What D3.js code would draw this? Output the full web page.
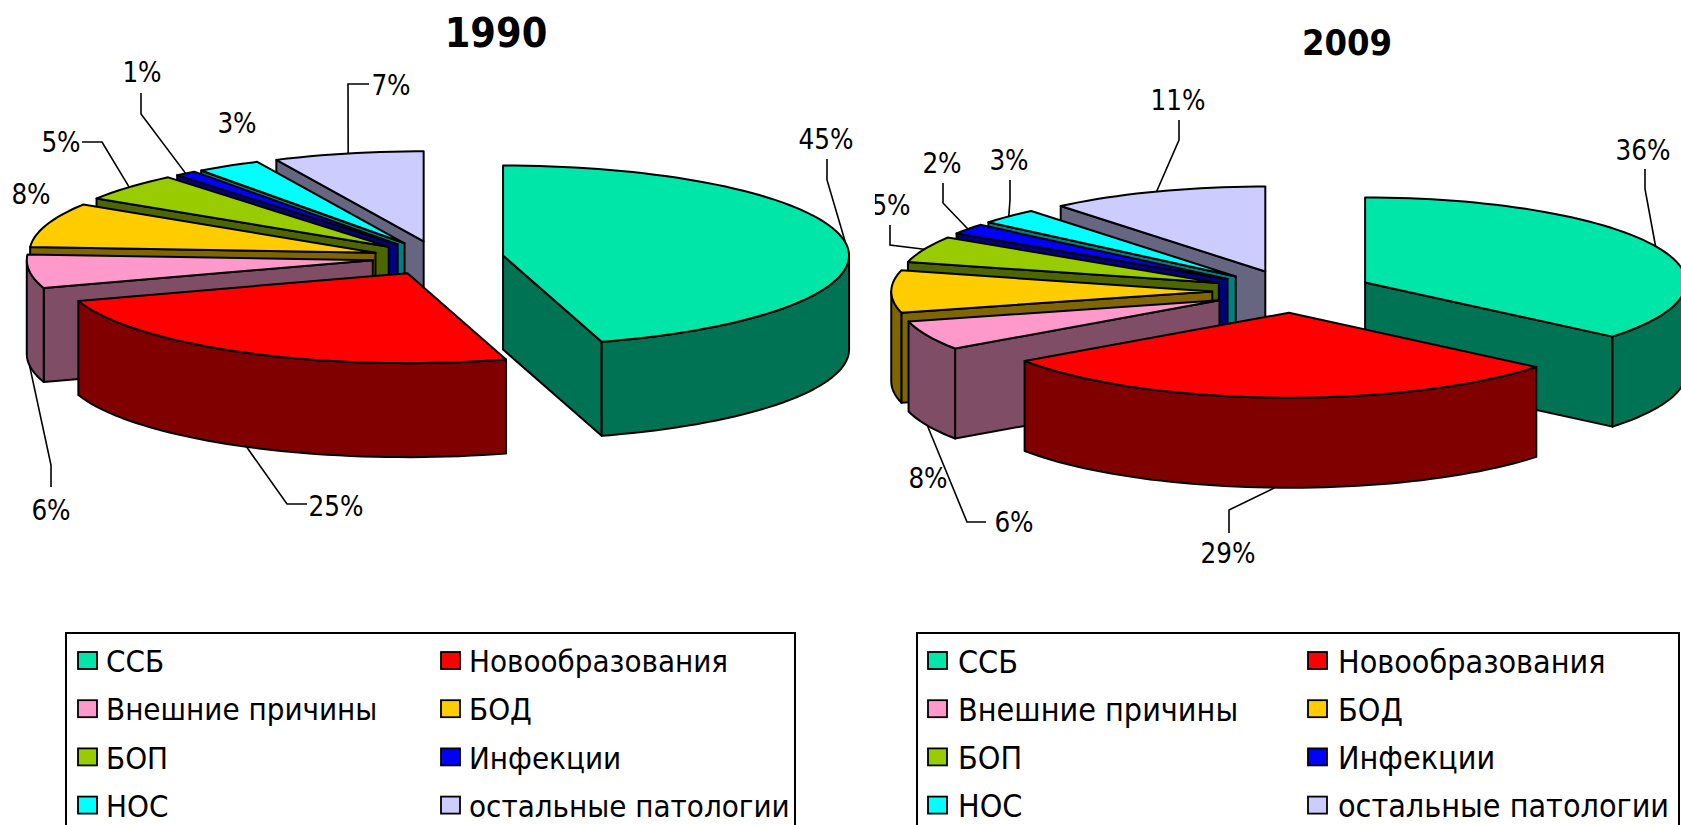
<!DOCTYPE html>
<html>
<head>
<meta charset="utf-8">
<script src="https://cdn.jsdelivr.net/npm/d3@7"></script>
<style>
  body { margin: 0; background: #fff; overflow: hidden; }
  text { font-family: "DejaVu Sans Condensed", "DejaVu Sans", sans-serif; fill: #000; }
</style>
</head>
<body>
<div id="chart-area"></div>
<script>
const categories = ["ССБ", "Новообразования", "Внешние причины", "БОД", "БОП", "Инфекции", "НОС", "остальные патологии"];
// labels show these rounded; decimals estimated from the slice edges
const values1990 = [45.4, 24.6, 6, 8, 5, 1, 3, 7];
const values2009 = [36, 29.4, 5.6, 8, 5, 2, 3, 11];
const topColors = ["#00E6A8", "#FF0000", "#FF99CC", "#FFCC00", "#99CC00", "#0000FF", "#00FFFF", "#CCCCFF"];

// label centre and the two leader points next to it, per slice (no leader = label only)
const labels1990 = [
    {at: [826, 139], leader: [[827, 159], [827, 180]]},
    {at: [336, 506], leader: [[307, 504], [287, 504]]},
    {at: [51, 510], leader: [[51, 487], [51, 465]]},
    {at: [31, 194]},
    {at: [61, 142], leader: [[82, 142], [102, 142]]},
    {at: [142, 72], leader: [[141, 93], [141, 114]]},
    {at: [237, 123]},
    {at: [391, 85], leader: [[369, 84], [348, 84]]}
];
const labels2009 = [
    {at: [1643, 150], leader: [[1645, 169], [1645, 189]]},
    {at: [1228, 553], leader: [[1229, 533], [1229, 510]]},
    {at: [1014, 522], leader: [[986, 522], [967, 522]]},
    {at: [928, 478]},
    {at: [891, 205], leader: [[890, 225], [890, 245]]},
    {at: [942, 163], leader: [[943, 183], [943, 203]]},
    {at: [1009, 160], leader: [[1010, 180], [1010, 200]]},
    {at: [1178, 100], leader: [[1179, 120], [1179, 140]]}
];

const width = 1681;
const height = 825;

const svg = d3.select("#chart-area")
    .append("svg")
    .attr("width", width)
    .attr("height", height)
    .style("display", "block");

svg.append("defs").append("clipPath")
    .attr("id", "clip2009")
    .append("rect")
    .attr("x", 875)
    .attr("y", 0)
    .attr("width", width - 875)
    .attr("height", height);

const topColor = d3.scaleOrdinal().domain(categories).range(topColors);
const wallColor = d => d3.interpolateRgb(topColor(d), "#000")(0.5);
const pie = d3.pie().sort(null).startAngle(0).endAngle(2 * Math.PI);
const line = d3.line();
const pctFormat = d3.format(".0f");
const PI = Math.PI;
const arcStep = PI / 90;

function drawPie(parent, opts) {
    const x = d3.scaleLinear().domain([-1, 1]).range([opts.cx - opts.rx, opts.cx + opts.rx]);
    const y = d3.scaleLinear().domain([-1, 1]).range([opts.cy - opts.ry, opts.cy + opts.ry]);

    const slices = pie(opts.values).map((s, i) => {
        const mid = (s.startAngle + s.endAngle) / 2;
        return {
            ...s,
            name: categories[i],
            label: opts.labels[i],
            mid: mid,
            ox: opts.explode * Math.sin(mid),
            oy: -opts.explode * Math.cos(mid)
        };
    });

    // rim point of a slice on the top face
    const rim = (s, a, r = 1) => [
        x(s.ox + r * Math.sin(a)),
        y(s.oy - r * Math.cos(a))
    ];
    const down = p => [p[0], p[1] + opts.depth];
    const arcPoints = (s, a0, a1) => {
        const pts = d3.range(a0, a1, arcStep).map(a => rim(s, a));
        pts.push(rim(s, a1));
        return pts;
    };

    // back slices first
    const ordered = slices.slice().sort((p, q) => d3.descending(Math.cos(p.mid), Math.cos(q.mid)));

    const groups = parent.selectAll("g.slice")
        .data(ordered)
        .enter()
        .append("g")
        .attr("class", "slice");

    const shape = (g, pts, fill) => g.append("path")
        .attr("d", line(pts) + "Z")
        .attr("fill", fill)
        .attr("stroke", "#000")
        .attr("stroke-width", 2)
        .attr("stroke-linejoin", "round");

    groups.each(function(s) {
        const g = d3.select(this);
        const wall = wallColor(s.name);
        const centre = rim(s, 0, 0);

        const radialWall = a => {
            const r = rim(s, a);
            shape(g, [centre, r, down(r), down(centre)], wall);
        };
        // radial sides only show when they face the viewer
        if (s.startAngle >= PI) radialWall(s.startAngle);
        if (s.endAngle <= PI) radialWall(s.endAngle);

        const a0 = Math.max(s.startAngle, PI / 2);
        const a1 = Math.min(s.endAngle, 3 * PI / 2);
        if (a1 > a0) {
            const edge = arcPoints(s, a0, a1);
            shape(g, edge.concat(edge.map(down).reverse()), wall);
        }

        shape(g, [centre].concat(arcPoints(s, s.startAngle, s.endAngle)), topColor(s.name));
    });

    // leaders end on the middle of the slice's visible rim
    slices.filter(s => s.label.leader).forEach(s => {
        const r = rim(s, s.mid);
        const end = Math.cos(s.mid) < 0 ? down(r) : r;
        parent.append("path")
            .attr("d", line(s.label.leader.concat([end])))
            .attr("fill", "none")
            .attr("stroke", "#000")
            .attr("stroke-width", 1.6);
    });

    parent.selectAll("text.pct")
        .data(slices)
        .enter()
        .append("text")
        .attr("class", "pct")
        .attr("x", d => d.label.at[0])
        .attr("y", d => d.label.at[1])
        .attr("dy", "0.36em")
        .attr("text-anchor", "middle")
        .style("font-size", "27.5px")
        .text(d => pctFormat(d.value) + "%");
}

function drawLegend(opts) {
    const g = svg.append("g");
    g.append("rect")
        .attr("x", opts.x)
        .attr("y", 633)
        .attr("width", opts.w)
        .attr("height", 230)
        .attr("fill", "#fff")
        .attr("stroke", "#000")
        .attr("stroke-width", 2);

    const items = g.selectAll("g.item")
        .data(categories)
        .enter()
        .append("g")
        .attr("class", "item")
        .attr("transform", (d, i) => `translate(${opts.cols[i % 2]}, ${661 + 48.2 * Math.floor(i / 2)})`);

    items.append("rect")
        .attr("x", 0)
        .attr("y", -9)
        .attr("width", 19)
        .attr("height", 17)
        .attr("fill", d => topColor(d))
        .attr("stroke", "#000")
        .attr("stroke-width", 1.8);

    items.append("text")
        .attr("x", opts.textGap)
        .attr("dy", "0.36em")
        .style("font-size", opts.fontSize + "px")
        .text(d => d);
}

const left = svg.append("g");
drawPie(left, {values: values1990, labels: labels1990, cx: 438, cy: 258, rx: 346, ry: 90, explode: 0.19, depth: 94});

const right = svg.append("g").attr("clip-path", "url(#clip2009)");
drawPie(right, {values: values2009, labels: labels2009, cx: 1292.5, cy: 291.5, rx: 321, ry: 85, explode: 0.25, depth: 90});

svg.append("text")
    .attr("x", 496)
    .attr("y", 32)
    .attr("dy", "0.36em")
    .attr("text-anchor", "middle")
    .style("font-size", "41px")
    .style("font-weight", "bold")
    .text("1990");

svg.append("text")
    .attr("x", 1347)
    .attr("y", 42)
    .attr("dy", "0.36em")
    .attr("text-anchor", "middle")
    .style("font-size", "36px")
    .style("font-weight", "bold")
    .text("2009");

drawLegend({x: 66, w: 729, cols: [78, 441], textGap: 28, fontSize: 31});
drawLegend({x: 917, w: 762, cols: [928, 1308], textGap: 30, fontSize: 32});
</script>
</body>
</html>
